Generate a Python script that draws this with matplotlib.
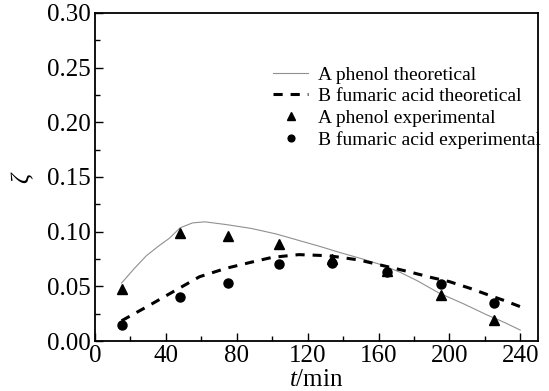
import matplotlib
matplotlib.use("Agg")
import matplotlib.pyplot as plt
from matplotlib.ticker import MultipleLocator, FormatStrFormatter

plt.rcParams['font.family'] = ['Liberation Serif', 'DejaVu Serif']
plt.rcParams['mathtext.fontset'] = 'custom'
plt.rcParams['mathtext.rm'] = 'Liberation Serif'
plt.rcParams['mathtext.it'] = 'Liberation Serif:italic'

# experimental data
t_exp = [15, 48, 75, 104, 134, 165, 195, 225]
phenol_exp = [0.048, 0.099, 0.096, 0.089, 0.075, 0.064, 0.042, 0.019]
fumaric_exp = [0.015, 0.040, 0.053, 0.070, 0.071, 0.063, 0.052, 0.035]

# theoretical curves
t_phenol_th = [15, 22, 29, 36, 42, 48, 55, 62, 74, 88, 102, 115, 128, 138, 150, 162, 172, 182, 194, 208, 221, 231, 240]
phenol_th = [0.053, 0.066, 0.078, 0.087, 0.094, 0.1035, 0.108, 0.109, 0.1065, 0.103, 0.098, 0.092, 0.086, 0.081, 0.0755, 0.0695, 0.063, 0.055, 0.044, 0.034, 0.024, 0.017, 0.010]
t_fumaric_th = [15, 30, 44, 59, 74, 88, 100, 115, 132, 149, 165, 177, 190, 200, 212, 222, 231, 240]
fumaric_th = [0.0185, 0.032, 0.045, 0.0588, 0.0665, 0.072, 0.0765, 0.079, 0.078, 0.0741, 0.068, 0.0634, 0.058, 0.0543, 0.048, 0.0421, 0.037, 0.0314]

x_ticks = [0, 40, 80, 120, 160, 200, 240]
y_ticks = [0.00, 0.05, 0.10, 0.15, 0.20, 0.25, 0.30]

fig = plt.figure(figsize=(5.49, 3.91), dpi=100)
ax = fig.add_axes([95/549, 50/391, (538-95)/549, (341-13)/391])

ax.plot(t_phenol_th, phenol_th, color='#909090', lw=0.8, label='A phenol theoretical')
ax.plot(t_fumaric_th, fumaric_th, color='black', lw=2.2, dashes=(3, 2.6), label='B fumaric acid theoretical')
ax.plot(t_exp, phenol_exp, ls='none', marker='^', color='black', ms=7, label='A phenol experimental')
ax.plot(t_exp, fumaric_exp, ls='none', marker='o', color='black', ms=6.5, label='B fumaric acid experimental')

ax.set_xlim(0, 250)
ax.set_ylim(0, 0.30)
ax.set_xticks(x_ticks)
ax.set_yticks(y_ticks)
ax.yaxis.set_major_formatter(FormatStrFormatter('%.2f'))
ax.xaxis.set_minor_locator(MultipleLocator(20))
ax.yaxis.set_minor_locator(MultipleLocator(0.025))
ax.tick_params(which='both', direction='in', top=False, right=False, labelsize=18, width=1)
ax.tick_params(which='major', length=6, pad=3)
ax.tick_params(which='minor', length=3.5)
for s in ax.spines.values():
    s.set_linewidth(1.3)

ax.set_xlabel('$t$/min', fontsize=18, labelpad=1.5)
ax.set_ylabel(r'$\zeta$', fontsize=18, labelpad=8)

leg = ax.legend(loc='upper left', bbox_to_anchor=(273/549, 1 - 66/391), bbox_transform=fig.transFigure,
                frameon=False, fontsize=14, borderpad=0, borderaxespad=0, labelspacing=0.21,
                handlelength=1.8, handletextpad=0.52, markerscale=0.75)

fig.savefig('out.png', dpi=100)
